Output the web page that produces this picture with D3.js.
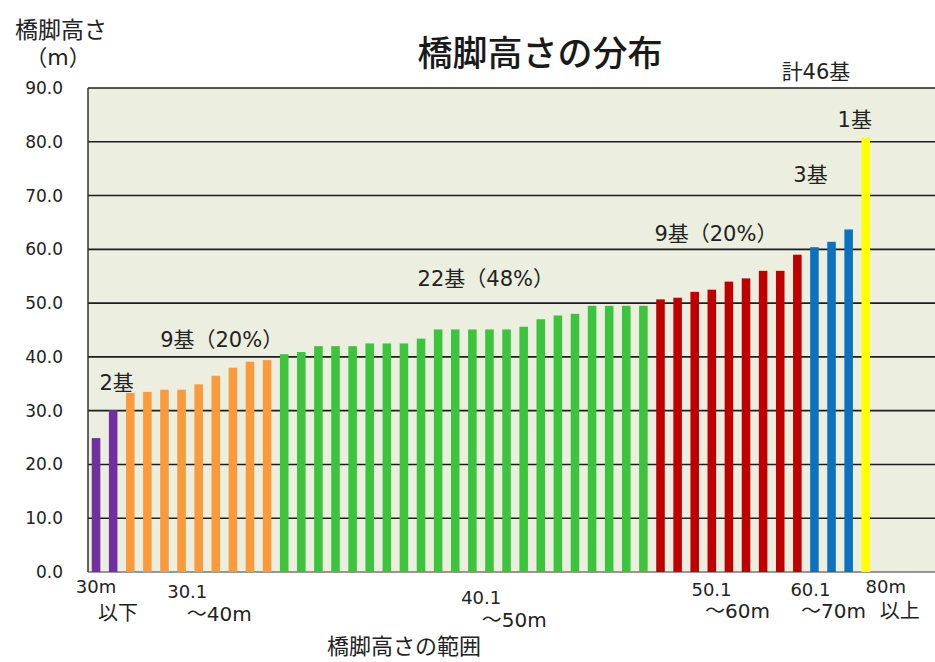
<!DOCTYPE html>
<html>
<head>
<meta charset="utf-8">
<script src="https://cdn.jsdelivr.net/npm/d3@7"></script>
<style>
  body { margin: 0; background: #fff; }
  svg { display: block; font-family: "DejaVu Sans", "Noto Sans CJK JP", sans-serif; }
</style>
</head>
<body>
<svg id="chart" width="935" height="662"></svg>
<script>
// 橋脚高さ (m) 46基、低い順
const heights = [
  24.9, 30.1,
  33.3, 33.5, 33.9, 33.9, 34.9, 36.5, 38.0, 39.1, 39.4,
  40.5, 40.9, 42.0, 42.0, 42.0, 42.5, 42.5, 42.5, 43.4, 45.1, 45.1,
  45.1, 45.1, 45.1, 45.6, 47.0, 47.7, 48.0, 49.5, 49.5, 49.5, 49.5,
  50.7, 51.0, 52.1, 52.5, 54.0, 54.6, 56.0, 56.0, 59.0,
  60.4, 61.4, 63.7,
  80.8
];
const groupCounts = [2, 9, 22, 9, 3, 1];
const groupColors = ["#7030a0", "#fa9a3a", "#3cc43c", "#c00000", "#0b72c0", "#ffff00"];
const groupNotes = ["2基", "9基（20%）", "22基（48%）", "9基（20%）", "3基", "1基"];
const rangeTop = ["30m", "30.1", "40.1", "50.1", "60.1", "80m"];
const rangeBottom = ["以下", "～40m", "～50m", "～60m", "～70m", "以上"];
const yTicks = [0, 10, 20, 30, 40, 50, 60, 70, 80, 90];

// レイアウト
const plot = { left: 88, right: 935, top: 88, bottom: 572 };
const noteOffset = [[12, -27], [23, -20], [22, -27], [-13, -21], [-21, -54], [-11, -17]];
const topLabelPos = [[0, 586], [57, 591], [197, 597], [51, 589], [-4, 589], [20, 586]];
const bottomLabelPos = [[22, 613], [89, 614], [230, 620], [77, 611], [19, 611], [34, 611]];

const svg = d3.select("#chart");

// 各棒のグループ番号
const groupOf = [];
const groupStart = [];
groupCounts.forEach((c, g) => {
  groupStart.push(groupOf.length);
  for (let i = 0; i < c; i++) groupOf.push(g);
});

const x = d3.scaleBand()
  .domain(d3.range(heights.length))
  .range([87.5, 874.3])
  .paddingInner(0.5)
  .paddingOuter(0.25);

const y = d3.scaleLinear()
  .domain([0, 90])
  .range([plot.bottom, plot.top]);

svg.append("rect")
  .attr("x", plot.left)
  .attr("y", plot.top)
  .attr("width", plot.right - plot.left)
  .attr("height", plot.bottom - plot.top)
  .attr("fill", "#eceedf");

// 目盛線
svg.append("g")
  .selectAll("line")
  .data(yTicks)
  .join("line")
  .attr("x1", plot.left)
  .attr("x2", plot.right)
  .attr("y1", d => y(d))
  .attr("y2", d => y(d))
  .attr("stroke", d => d === 0 ? "#777" : "#1e1e1e")
  .attr("stroke-width", 1.6);

svg.append("g")
  .selectAll("text")
  .data(yTicks)
  .join("text")
  .attr("x", 63)
  .attr("y", d => y(d))
  .attr("text-anchor", "end")
  .attr("dominant-baseline", "central")
  .attr("font-size", 17)
  .attr("fill", "#222")
  .text(d => d3.format(".1f")(d));

// 棒
svg.append("g")
  .selectAll("rect")
  .data(heights)
  .join("rect")
  .attr("x", (d, i) => x(i))
  .attr("width", x.bandwidth())
  .attr("y", d => y(d))
  .attr("height", d => y(0) - y(d))
  .attr("fill", (d, i) => groupColors[groupOf[i]]);

svg.append("line")
  .attr("x1", plot.left).attr("x2", plot.left)
  .attr("y1", plot.top).attr("y2", plot.bottom)
  .attr("stroke", "#333")
  .attr("stroke-width", 1.5);

const cx = i => x(i) + x.bandwidth() / 2;

// グループ注記
svg.append("g")
  .selectAll("text")
  .data(groupNotes)
  .join("text")
  .attr("x", (d, g) => {
    const s = groupStart[g], e = s + groupCounts[g] - 1;
    return (cx(s) + cx(e)) / 2 + noteOffset[g][0];
  })
  .attr("y", (d, g) => {
    const vals = heights.slice(groupStart[g], groupStart[g] + groupCounts[g]);
    return y(d3.max(vals)) + noteOffset[g][1];
  })
  .attr("text-anchor", "middle")
  .attr("dominant-baseline", "central")
  .attr("font-size", 21)
  .attr("fill", "#222")
  .text(d => d);

svg.append("text")
  .attr("x", 816)
  .attr("y", 72)
  .attr("text-anchor", "middle")
  .attr("dominant-baseline", "central")
  .attr("font-size", 21)
  .attr("fill", "#222")
  .text("計" + d3.sum(groupCounts) + "基");

// 範囲ラベル
svg.append("g")
  .selectAll("text")
  .data(rangeTop)
  .join("text")
  .attr("x", (d, g) => cx(groupStart[g]) + topLabelPos[g][0])
  .attr("y", (d, g) => topLabelPos[g][1])
  .attr("text-anchor", "middle")
  .attr("dominant-baseline", "central")
  .attr("font-size", 18)
  .attr("fill", "#222")
  .text(d => d);

svg.append("g")
  .selectAll("text")
  .data(rangeBottom)
  .join("text")
  .attr("x", (d, g) => cx(groupStart[g]) + bottomLabelPos[g][0])
  .attr("y", (d, g) => bottomLabelPos[g][1])
  .attr("text-anchor", "middle")
  .attr("dominant-baseline", "central")
  .attr("font-size", 20)
  .attr("fill", "#222")
  .text(d => d);

// タイトル類
svg.append("text")
  .attr("x", 540)
  .attr("y", 50)
  .attr("text-anchor", "middle")
  .attr("dominant-baseline", "central")
  .attr("font-size", 35)
  .attr("font-weight", 500)
  .attr("font-family", "Noto Sans CJK JP")
  .attr("fill", "#1a1a1a")
  .text("橋脚高さの分布");

svg.append("text")
  .attr("x", 61)
  .attr("y", 28)
  .attr("text-anchor", "middle")
  .attr("dominant-baseline", "central")
  .attr("font-size", 23)
  .attr("font-family", "Noto Sans CJK JP")
  .attr("fill", "#222")
  .text("橋脚高さ");

svg.append("text")
  .attr("x", 58)
  .attr("y", 57)
  .attr("text-anchor", "middle")
  .attr("dominant-baseline", "central")
  .attr("font-size", 22)
  .attr("fill", "#222")
  .text("（m）");

svg.append("text")
  .attr("x", 404)
  .attr("y", 644)
  .attr("text-anchor", "middle")
  .attr("dominant-baseline", "central")
  .attr("font-size", 22)
  .attr("font-family", "Noto Sans CJK JP")
  .attr("fill", "#222")
  .text("橋脚高さの範囲");
</script>
</body>
</html>
